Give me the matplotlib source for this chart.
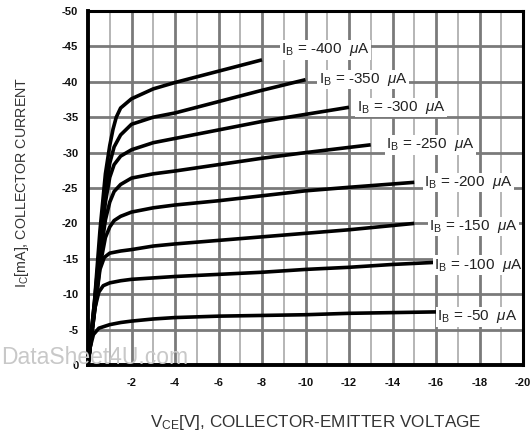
import matplotlib
matplotlib.use('Agg')
import matplotlib.pyplot as plt
from matplotlib.ticker import MultipleLocator

plt.rcParams['font.family'] = ['Liberation Sans', 'DejaVu Sans']
plt.rcParams['mathtext.fontset'] = 'custom'
plt.rcParams['mathtext.rm'] = 'Liberation Sans'
plt.rcParams['mathtext.it'] = 'Liberation Sans:italic'

# base currents (uA) and curves: V_CE [V], I_C [mA]
ib_values = [-400, -350, -300, -250, -200, -150, -100, -50]

vce_400 = [0, -0.3, -0.55, -0.8, -1.0, -1.15, -1.3, -1.5, -2, -3, -4, -5, -6, -7, -8]
ic_400 = [0, -9, -19, -27, -31, -33.3, -35.0, -36.3, -37.6, -39, -39.9, -40.7, -41.5, -42.3, -43.1]

vce_350 = [0, -0.3, -0.55, -0.8, -1.0, -1.2, -1.5, -2, -3, -4, -6, -8, -10]
ic_350 = [0, -9, -17, -24.5, -28.5, -30.8, -32.5, -34, -35, -35.6, -37.2, -38.8, -40.3]

vce_300 = [0, -0.3, -0.55, -0.8, -1.0, -1.2, -1.5, -2, -3, -4, -6, -8, -10, -12]
ic_300 = [0, -8.5, -16, -23, -26.5, -28.3, -29.5, -30.4, -31.4, -32, -33.2, -34.4, -35.4, -36.4]

vce_250 = [0, -0.3, -0.55, -0.8, -1.0, -1.2, -1.5, -2, -3, -4, -6, -8, -10, -13]
ic_250 = [0, -8, -15, -20.5, -23, -24.5, -25.5, -26.4, -27, -27.4, -28.3, -29.2, -30, -31.1]

vce_200 = [0, -0.3, -0.55, -0.8, -1.0, -1.2, -1.5, -2, -3, -4, -6, -8, -10, -12, -15]
ic_200 = [0, -7.5, -14, -18, -19.5, -20.4, -21, -21.6, -22.2, -22.6, -23.2, -23.9, -24.6, -25.1, -25.8]

vce_150 = [0, -0.3, -0.55, -0.75, -1.0, -1.5, -2, -3, -4, -6, -8, -10, -12, -15]
ic_150 = [0, -7.5, -13.5, -15.2, -15.8, -16.1, -16.3, -16.8, -17.1, -17.6, -18.1, -18.6, -19.1, -20.0]

vce_100 = [0, -0.15, -0.3, -0.5, -0.7, -1, -1.5, -2, -3, -4, -6, -8, -10, -12, -14, -16]
ic_100 = [0, -4, -7.8, -10.3, -11.2, -11.6, -11.9, -12.1, -12.3, -12.5, -12.8, -13.1, -13.5, -13.8, -14.2, -14.5]

vce_50 = [0, -0.1, -0.25, -0.5, -1, -1.5, -2, -3, -4, -6, -8, -10, -12, -14, -16]
ic_50 = [0, -2.5, -4.3, -5.2, -5.7, -6.0, -6.2, -6.5, -6.7, -6.9, -7.0, -7.1, -7.3, -7.4, -7.5]

curves = [(vce_400, ic_400), (vce_350, ic_350), (vce_300, ic_300), (vce_250, ic_250),
          (vce_200, ic_200), (vce_150, ic_150), (vce_100, ic_100), (vce_50, ic_50)]

# label anchor points (V, I)
label_v = [-8.87, -10.6, -12.35, -13.7, -15.45, -15.67, -15.9, -16.05]
label_i = [-44.5, -40.3, -36.4, -31.1, -25.8, -19.6, -14.1, -6.8]

x_ticks = [-2, -4, -6, -8, -10, -12, -14, -16, -18, -20]
y_ticks = [0, -5, -10, -15, -20, -25, -30, -35, -40, -45, -50]

fig = plt.figure(figsize=(5.31, 4.38), dpi=100)
ax = fig.add_axes([88 / 531, 1 - 365 / 438, 435 / 531, 354 / 438])

ax.set_xlim(0, -20)
ax.set_ylim(0, -50)

# grid
ax.xaxis.set_minor_locator(MultipleLocator(1))
ax.grid(True, which='major', axis='both', color='#7a7a7a', linewidth=2.0, zorder=0)
ax.grid(True, which='minor', axis='x', color='#b0b0b0', linewidth=1.3, zorder=0)

for (v, i) in curves:
    ax.plot(v, i, color='black', linewidth=2.6, zorder=3, solid_capstyle='butt')

for ib, lv, li in zip(ib_values, label_v, label_i):
    ax.text(lv, li, r'I$_{\mathrm{B}}$ = %d  $\mu$A' % ib, fontsize=11, color='#222222',
            ha='left', va='center', zorder=4,
            bbox=dict(boxstyle='square,pad=0.08', fc='white', ec='none'))

ax.set_xticks(x_ticks)
ax.set_yticks(y_ticks)
ax.set_xticklabels([str(t) for t in x_ticks])
ax.set_yticklabels([str(t) for t in y_ticks])
ax.tick_params(axis='both', which='both', length=0, labelsize=8, colors='#111111')
ax.tick_params(axis='x', pad=9)
ax.tick_params(axis='y', pad=7)
for lab in ax.get_xticklabels() + ax.get_yticklabels():
    lab.set_fontweight('bold')

for side in ['left', 'bottom']:
    ax.spines[side].set_linewidth(2.8)
for side in ['top', 'right']:
    ax.spines[side].set_linewidth(2.2)
for s in ax.spines.values():
    s.set_zorder(5)

fig.text(22 / 531, 1 - 182 / 438, r'I$_{\mathrm{C}}$[mA], COLLECTOR CURRENT', rotation=90,
         fontsize=10.3, color='#333333', ha='center', va='center')
fig.text(316 / 531, 1 - 422 / 438, r'V$_{\mathrm{CE}}$[V], COLLECTOR-EMITTER VOLTAGE',
         fontsize=12.3, color='#333333', ha='center', va='center')

# watermark
fig.text(1 / 531, 1 - 358 / 438, 'DataSheet4U.com', fontsize=16.5, color='#c8c8c8',
         ha='left', va='center', zorder=10)

fig.savefig('out.png', dpi=100)
